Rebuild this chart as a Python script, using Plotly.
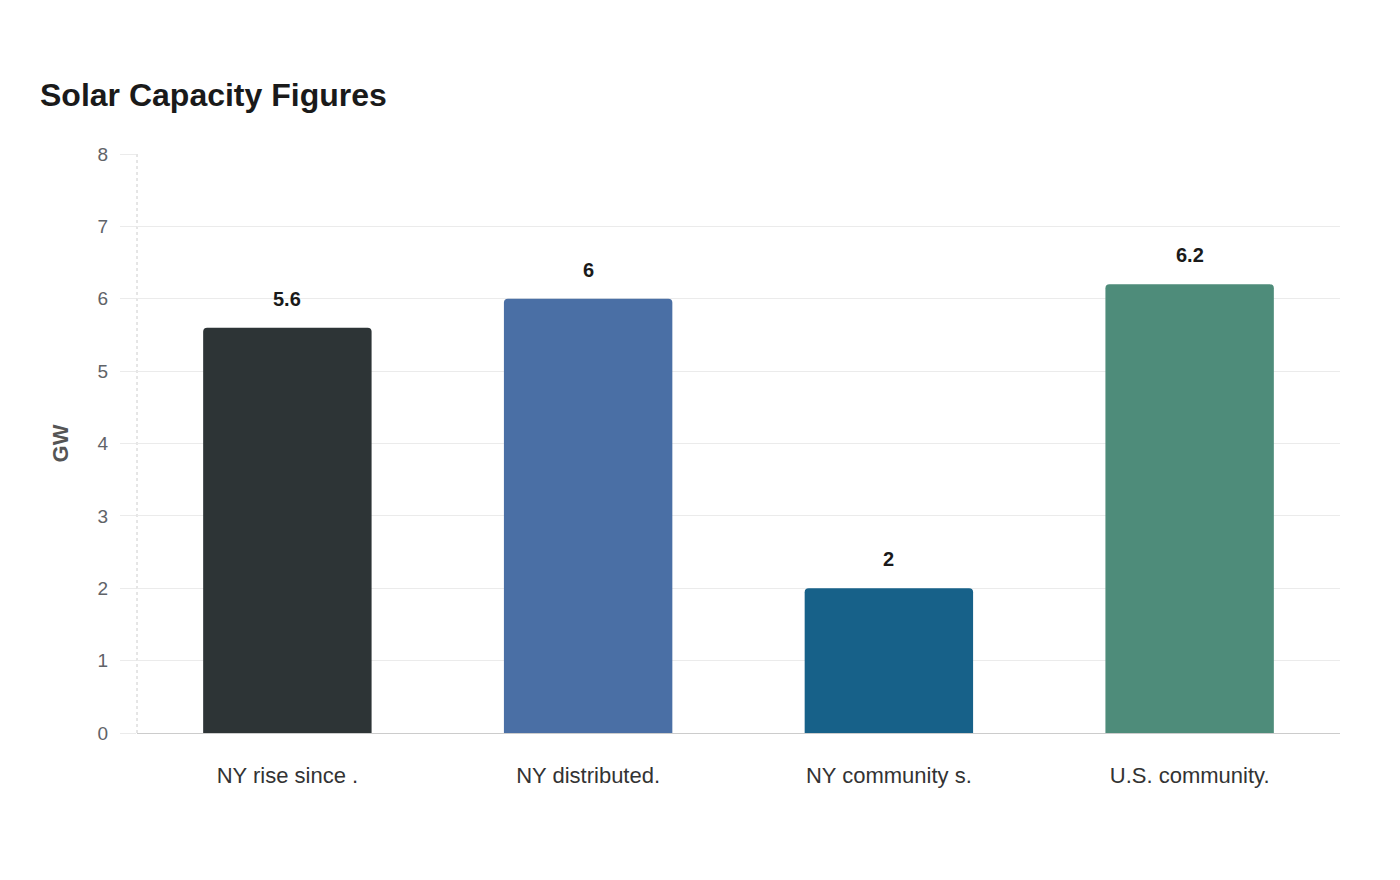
import plotly.graph_objects as go

categories = ["NY rise since .", "NY distributed.", "NY community s.", "U.S. community."]
values = [5.6, 6, 2, 6.2]
value_labels = ["5.6", "6", "2", "6.2"]
colors = ["#2d3436", "#4a6fa5", "#176189", "#4e8c7a"]
y_ticks = [0, 1, 2, 3, 4, 5, 6, 7, 8]

FONT = "Liberation Sans, Arial, sans-serif"

fig = go.Figure()
fig.add_trace(go.Bar(
    x=categories, y=values,
    marker=dict(color=colors, line=dict(width=0), cornerradius=4),
    hoverinfo="skip",
))

for c, v, t in zip(categories, values, value_labels):
    fig.add_annotation(x=c, y=v, text="<b>%s</b>" % t, showarrow=False,
                       yanchor="bottom", yshift=16,
                       font=dict(family=FONT, size=20, color="#1a1a1a"))

# dotted left axis line
fig.add_shape(type="line", xref="paper", yref="paper", x0=0, x1=0, y0=0, y1=1,
              line=dict(color="#cccccc", width=1, dash="dot"), layer="below")

fig.update_layout(
    width=1400, height=880,
    paper_bgcolor="white", plot_bgcolor="white",
    margin=dict(l=137, r=60, t=154, b=147),
    bargap=0.44,
    showlegend=False,
    font=dict(family=FONT, color="#555555"),
    title=dict(text="<b>Solar Capacity Figures</b>", x=40/1400, xref="container", xanchor="left",
               y=1-95/880, yref="container", yanchor="middle",
               font=dict(family=FONT, size=32, color="#1a1a1a")),
    xaxis=dict(showgrid=False, showline=True, linecolor="#cccccc", linewidth=1,
               ticks="", ticklabelstandoff=23,
               tickfont=dict(family=FONT, size=22, color="#333333")),
    yaxis=dict(range=[0, 8], tickvals=y_ticks, showgrid=True, gridcolor="#ebebeb", gridwidth=1,
               zeroline=False, showline=False, ticks="outside", ticklen=16, tickcolor="#ebebeb",
               ticklabelstandoff=8,
               tickfont=dict(family=FONT, size=19, color="#5f6368"),
               title=dict(text="<b>GW</b>", standoff=22, font=dict(family=FONT, size=22, color="#555555"))),
)

fig.write_html("out.html")
